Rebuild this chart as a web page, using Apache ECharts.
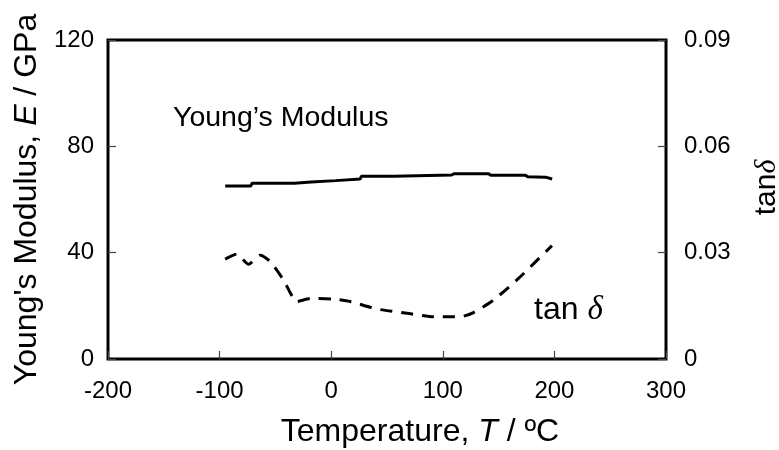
<!DOCTYPE html>
<html>
<head>
<meta charset="utf-8">
<script src="https://cdn.jsdelivr.net/npm/echarts@6/dist/echarts.min.js"></script>
<style>html,body{margin:0;padding:0;background:#fff}#c{width:779px;height:450px}</style>
</head>
<body>
<div id="c"></div>
<script>
// Young's modulus (GPa) vs temperature (°C)
var modulusT = [-95, -72, -71, -33, -32, -18, -17, 4, 5, 26, 27, 56, 57, 108, 110, 141, 143, 174, 176, 192, 198];
var modulusE = [65.1, 65.1, 66.1, 66.1, 66.6, 66.6, 67.1, 67.1, 67.7, 67.7, 68.7, 68.7, 69.2, 69.2, 69.7, 69.7, 69.1, 69.1, 68.6, 68.4, 67.7];
// tan delta vs temperature (°C)
var tanT = [-95, -84.5, -74, -63.6, -54.7, -42.7, -30.7, -18.8, 2, 17, 41, 68, 92, 115.6, 127.5, 145.4, 169.4, 197.8];
var tanD = [0.0282, 0.0296, 0.0267, 0.0293, 0.0275, 0.0223, 0.0162, 0.0171, 0.0169, 0.0162, 0.0141, 0.0129, 0.0119, 0.0119, 0.0131, 0.0166, 0.0232, 0.0320];
var xTicks = [-200, -100, 0, 100, 200, 300];
var leftTicks = [0, 40, 80, 120];
var rightTicks = [0, 0.03, 0.06, 0.09];

function pairs(xs, ys) { return xs.map(function (x, i) { return [x, ys[i]]; }); }

var FONT = 'Liberation Sans, Arial, Helvetica, sans-serif';
var TICK = { show: true, inside: true, length: 8, lineStyle: { color: '#444', width: 1.2 } };
var AXLINE = { show: false, onZero: false };
var chart = echarts.init(document.getElementById('c'), null, { renderer: 'canvas' });
chart.setOption({
  animation: false,
  backgroundColor: '#fff',
  grid: { left: 108, right: 113, top: 40, bottom: 91, containLabel: false, outerBoundsMode: 'none', show: true, borderColor: '#000', borderWidth: 3, backgroundColor: 'transparent' },
  xAxis: {
    type: 'value', min: xTicks[0], max: xTicks[xTicks.length - 1], interval: 100,
    splitLine: { show: false },
    axisLine: AXLINE,
    axisTick: TICK,
    axisLabel: { color: '#000', fontSize: 24, fontFamily: FONT, margin: 20 },
    name: '{n|Temperature, }{i|T}{n| / ºC}',
    nameLocation: 'middle', nameGap: 57,
    nameTextStyle: { padding: [0, 0, 0, 66], rich: { n: { fontSize: 32, fontFamily: FONT, color: '#000' }, i: { fontSize: 32, fontFamily: FONT, fontStyle: 'italic', color: '#000' } } }
  },
  yAxis: [{
    type: 'value', position: 'left', min: leftTicks[0], max: leftTicks[leftTicks.length - 1], interval: 40,
    splitLine: { show: false },
    axisLine: AXLINE,
    axisTick: TICK,
    axisLabel: { color: '#000', fontSize: 24, fontFamily: FONT, margin: 14 },
    name: "{n|Young's Modulus, }{i|E}{n| / GPa}",
    nameLocation: 'middle', nameGap: 64,
    nameTextStyle: { rich: { n: { fontSize: 32, fontFamily: FONT, color: '#000' }, i: { fontSize: 32, fontFamily: FONT, fontStyle: 'italic', color: '#000' } } }
  }, {
    type: 'value', position: 'right', min: rightTicks[0], max: rightTicks[rightTicks.length - 1], interval: 0.03,
    splitLine: { show: false },
    axisLine: AXLINE,
    axisTick: TICK,
    axisLabel: { color: '#000', fontSize: 24, fontFamily: FONT, margin: 18, formatter: function (v) { return v === 0 ? '0' : v.toFixed(2); } },
    name: '{n|tan}{d|δ}',
    nameLocation: 'middle', nameGap: 86,
    nameTextStyle: { padding: [0, 0, 0, 24], rich: { n: { fontSize: 30, fontFamily: FONT, color: '#000' }, d: { fontSize: 30, fontFamily: 'Liberation Serif, serif', fontStyle: 'italic', color: '#000' } } }
  }],
  series: [{
    type: 'line', name: "Young's Modulus", data: pairs(modulusT, modulusE), yAxisIndex: 0,
    showSymbol: false, lineStyle: { color: '#000', width: 3 }
  }, {
    type: 'line', name: 'tan δ', data: pairs(tanT, tanD), yAxisIndex: 1,
    showSymbol: false, smooth: 0.2, lineStyle: { color: '#000', width: 3, type: [12, 9] }
  }],
  graphic: [{
    type: 'text', left: 173, top: 104,
    style: { text: "Young’s Modulus", font: '28.5px ' + FONT, fill: '#000' }
  }, {
    type: 'text', left: 534, top: 294,
    style: {
      text: '{n|tan }{d|δ}',
      rich: { n: { fontSize: 32, fontFamily: FONT, fill: '#000' }, d: { fontSize: 33, fontFamily: 'Liberation Serif, serif', fontStyle: 'italic', fill: '#000' } }
    }
  }]
});
</script>
</body>
</html>
